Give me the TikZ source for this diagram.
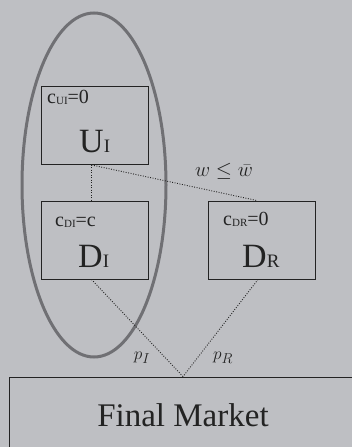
\documentclass[tikz,border=0pt]{standalone}
\usepackage{fontspec}
\setmainfont{Liberation Serif}
\usetikzlibrary{positioning}
\definecolor{bggray}{RGB}{190,191,195}
\definecolor{ringgray}{RGB}{112,112,116}
\definecolor{inkdark}{RGB}{35,35,35}
\newcommand{\fs}[1]{\fontsize{#1}{#1}\selectfont}
\newcommand{\sub}[1]{\raisebox{-1.5pt}{\fs{11}#1}}
\tikzset{
  firm/.style={draw=inkdark, line width=0.9pt, minimum width=107pt,
               minimum height=78pt, inner sep=0pt},
  costlab/.style={anchor=base west, inner sep=0pt, text=inkdark, font=\fs{20}},
  firmlab/.style={anchor=base west, inner sep=0pt, text=inkdark, font=\fs{34}},
  link/.style={inkdark, line width=0.9pt, dash pattern=on 0.9pt off 1.6pt},
  pricelab/.style={inner sep=0pt, text=inkdark, font=\fs{19}},
}
\begin{document}
\begin{tikzpicture}[x=1pt, y=-1pt]
  \fill[bggray] (0,0) rectangle (352,447);
  \clip (0,0) rectangle (352,447);
  % integrated firm
  \draw[ringgray, line width=3pt] (94,185) ellipse [x radius=72, y radius=172];
  % firms
  \node[firm] (ui) at (94.5,125.5) {};
  \node[firm] (di) at (94.5,240) {};
  \node[firm] (dr) at (262,240) {};
  \node[draw=inkdark, line width=0.9pt, minimum width=348pt, minimum height=76pt,
        inner sep=0pt, font=\fs{33}, text=inkdark] (mkt) at (183,415) {Final Market};
  \node[costlab] (cui) at (47,103) {c\sub{UI}=0};
  \node[firmlab] (lui) at (79,152) {U{\fs{19}I}};
  \node[costlab] (cdi) at (55,226) {c\sub{DI}=c};
  \node[firmlab] (ldi) at (78,267) {D{\fs{19}I}};
  \node[costlab] (cdr) at (223,225) {c\sub{DR}=0};
  \node[firmlab] (ldr) at (242,267) {D{\fs{19}R}};
  % contracts
  \draw[link] ([xshift=-3pt]ui.south) -- ([xshift=-3pt]di.north);
  \draw[link] ([xshift=-3pt]ui.south) -- ([xshift=-5pt]dr.north);
  \draw[link] ([xshift=-3pt]di.south) -- (mkt.north);
  \draw[link] ([xshift=-4pt]dr.south) -- (mkt.north);
  \node[inner sep=0pt, text=inkdark, font=\fs{20}] (wcap) at (224,171) {$w \leq \bar{w}$};
  \node[pricelab] (pi) at (142,358) {$p_I$};
  \node[pricelab] (pr) at (223,358) {$p_R$};
\end{tikzpicture}
\end{document}
